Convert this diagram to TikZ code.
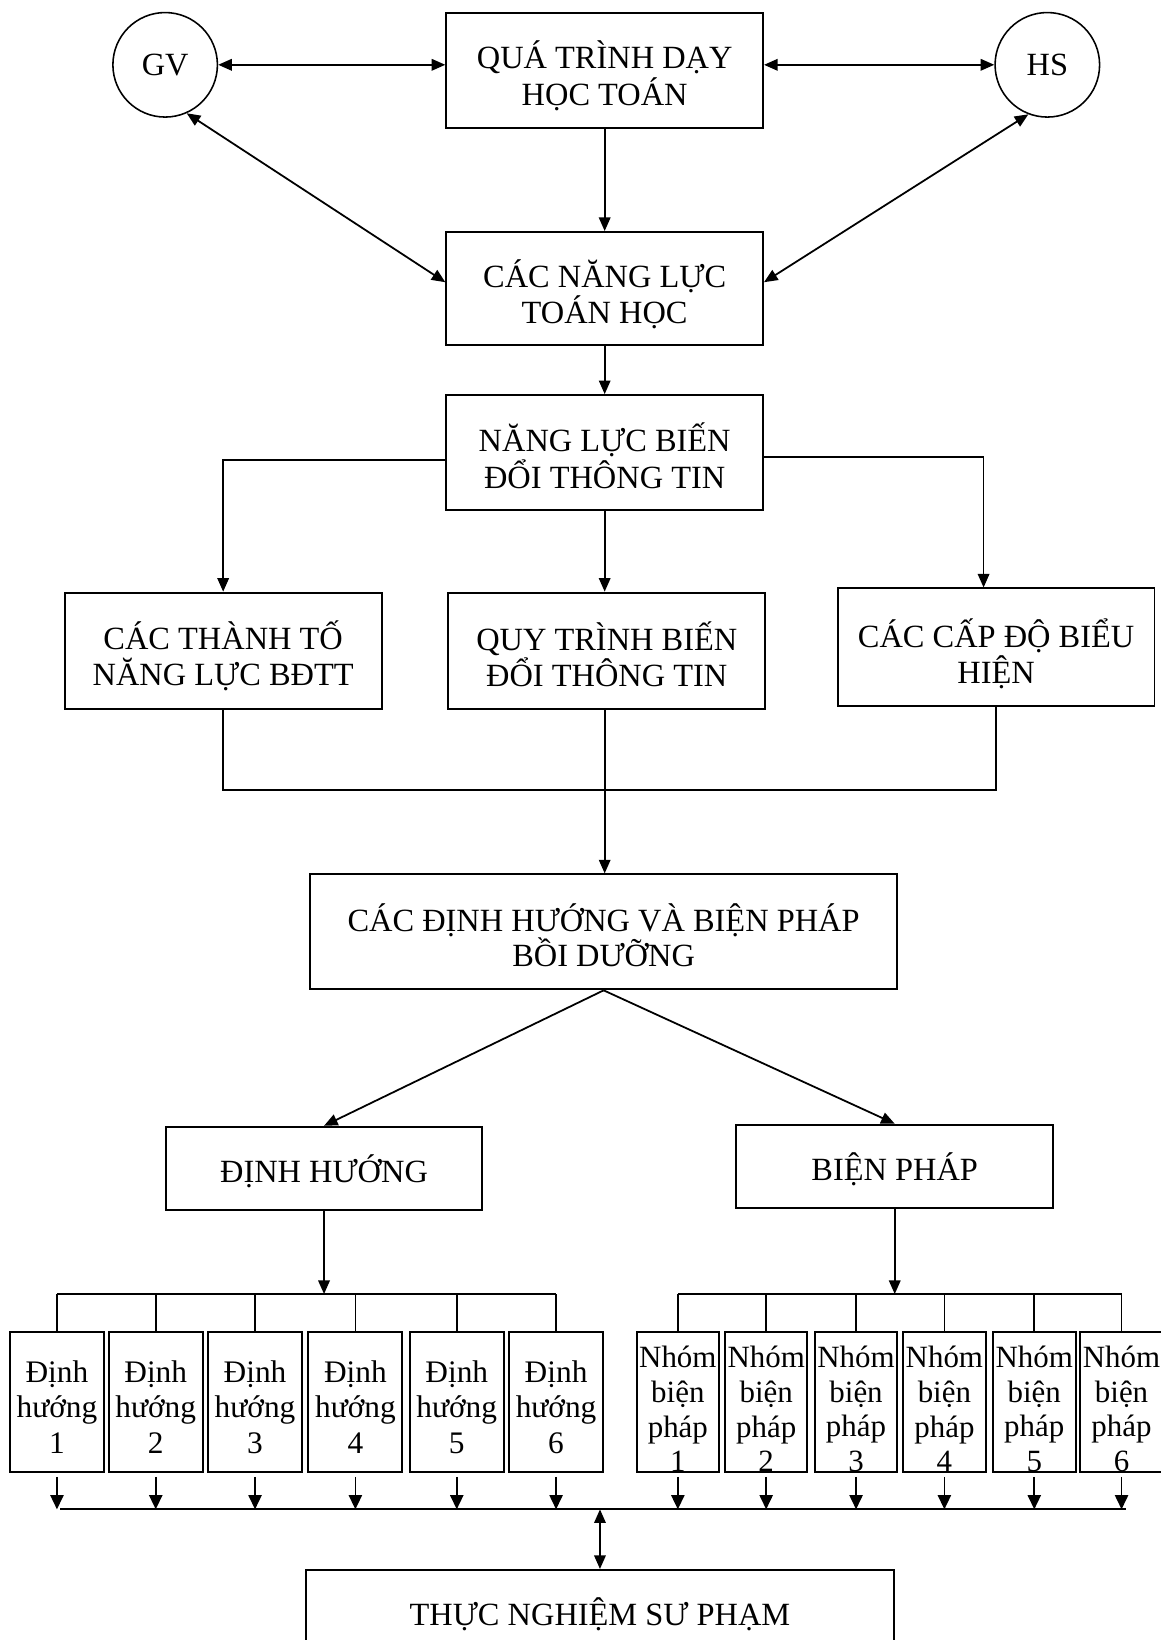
\documentclass[tikz,border=0pt]{standalone}
\usepackage{fontspec}
\setmainfont{Liberation Serif}
\usetikzlibrary{arrows.meta,calc}
\begin{document}
\begin{tikzpicture}[x=0.5pt,y=-0.5pt,
  box/.style={draw,line width=0.95pt,inner sep=0pt,minimum width=151.5pt,minimum height=55pt},
  txt/.style={align=center,inner sep=0pt,font=\fontsize{15.5}{17.5}\selectfont},
  circ/.style={draw,circle,line width=0.75pt,minimum size=50pt,inner sep=0pt,font=\fontsize{15.5}{17.5}\selectfont},
  smallbox/.style={draw,line width=0.95pt,inner sep=0pt,minimum height=67pt},
  lbl/.style={align=center,inner sep=0pt,font=\fontsize{15}{17}\selectfont},
  arr/.style={line width=0.85pt,-{Triangle[length=6.5pt,width=5.5pt]}},
  barr/.style={line width=0.85pt,-{Triangle[length=6.8pt,width=6.3pt]}},
  darr/.style={line width=0.85pt,{Triangle[length=6.5pt,width=5.5pt]}-{Triangle[length=6.5pt,width=5.5pt]}},
  ln/.style={line width=0.85pt}]
\useasboundingbox (0,0) rectangle (1110,1569);
% top level
\node[circ] (gv) at (158,62) {GV};
\node[circ] (hs) at (1002,62) {HS};
\node[box] (q) at (578.5,67) {};
\node[txt] (qt1) at ([yshift=-2.75pt]q.center) {QUÁ TRÌNH DẠY\\HỌC TOÁN};
\node[box,minimum height=54pt] (nlth) at (578.5,276) {};
\node[txt] (nlth1) at ([yshift=-2.75pt]nlth.center) {CÁC NĂNG LỰC\\TOÁN HỌC};
\node[box] (nlb) at (578.5,433) {};
\node[txt] (nlb1) at ([yshift=-1.5pt]nlb.center) {NĂNG LỰC BIẾN\\ĐỔI THÔNG TIN};
\node[box,minimum height=55.5pt] (tt) at (213.5,622.5) {};
\node[txt] (tt1) at ([yshift=-2.5pt]tt.center) {CÁC THÀNH TỐ\\NĂNG LỰC BĐTT};
\node[box,minimum height=55.5pt] (qt) at (580.5,622.5) {};
\node[txt] (qt2) at ([yshift=-1.75pt]qt.center) {QUY TRÌNH BIẾN\\ĐỔI THÔNG TIN};
\node[box,minimum height=56pt] (cd) at (953,619) {};
\node[txt] (cd1) at ([yshift=-3.2pt]cd.center) {CÁC CẤP ĐỘ BIỂU\\HIỆN};
\node[box,minimum width=280.5pt] (big) at (577.5,891.5) {};
\node[txt,font=\fontsize{15.5}{16.8}\selectfont] (big1) at ([yshift=-1.75pt]big.center) {CÁC ĐỊNH HƯỚNG VÀ BIỆN PHÁP\\BỒI DƯỠNG};
\node[box,minimum height=40pt] (dh) at (310,1118) {};
\node[txt] (dh1) at ([yshift=-1.5pt]dh.center) {ĐỊNH HƯỚNG};
\node[box,minimum height=40pt] (bp) at (856,1116) {};
\node[txt] (bp1) at ([yshift=-1.5pt]bp.center) {BIỆN PHÁP};
\node[box,minimum width=281pt,minimum height=42pt] (tn) at (574,1544) {};
\node[txt] (tn1) at (tn.center) {THỰC NGHIỆM SƯ PHẠM};
% small boxes
\foreach \i/\x in {1/54.5,2/149,3/244,4/340,5/437,6/532} {
  \node[smallbox,minimum width=45pt] (d\i) at (\x,1341) {};
  \node[lbl] (dt\i) at ([yshift=-2.5pt]d\i.center) {Định\\hướng\\\i};
}
\foreach \i/\x in {1/648.5,2/733,3/819,4/903.5,5/989.5,6/1073} {
  \node[smallbox,minimum width=39.5pt] (n\i) at (\x,1341) {};
  \node[lbl,font=\fontsize{14.8}{16.6}\selectfont] (nt\i) at ([yshift=-3.5pt]n\i.center) {Nhóm\\biện\\pháp\\\i};
}
% coordinates
\coordinate (jn) at (578,756);
\coordinate (tl) at (0,1238);
\coordinate (bl) at (0,1444);
% connectors top
\draw[darr] (gv.east) -- (gv.east -| q.west);
\draw[darr] (q.east |- hs.west) -- (hs.west);
\draw[arr] (q.south) -- (nlth.north);
\draw[darr] (gv.-66) -- ([yshift=3pt]nlth.west);
\draw[darr] (hs.-111) -- ([yshift=3pt]nlth.east);
\draw[arr] (nlth.south) -- (nlb.north);
\draw[arr] ([yshift=-3.5pt]nlb.west) -| (tt.north);
\draw[arr] ([yshift=-2pt]nlb.east) -| ([xshift=-6pt]cd.north);
\draw[arr] (nlb.south) -- (nlb.south |- qt.north);
% join
\draw[ln] (tt.south) |- (jn) -| (cd.south);
\draw[arr] (nlb.south |- qt.south) -- (nlb.south |- big.north);
% branches
\draw[arr] (big.south) -- (dh.north);
\draw[arr] (big.south) -- (bp.north);
% trees
\draw[arr] (dh.south) -- (dh.south |- tl);
\draw[ln] (d1.north |- tl) -- (d6.north |- tl);
\foreach \i in {1,...,6} { \draw[ln] (d\i.north |- tl) -- (d\i.north); }
\draw[arr] (bp.south) -- (bp.south |- tl);
\draw[ln] (n1.north |- tl) -- (n6.north |- tl);
\foreach \i in {1,...,6} { \draw[ln] (n\i.north |- tl) -- (n\i.north); }
% bottom collector
\foreach \i in {1,...,6} {
  \draw[barr] ([yshift=-2pt]d\i.south) -- (d\i.south |- bl);
  \draw[barr] ([yshift=-2pt]n\i.south) -- (n\i.south |- bl);
}
\draw[ln] ([xshift=1.5pt]d1.south |- bl) -- ([xshift=2pt]n6.south |- bl);
\draw[darr] (tn.north |- bl) -- (tn.north);
\end{tikzpicture}
\end{document}
